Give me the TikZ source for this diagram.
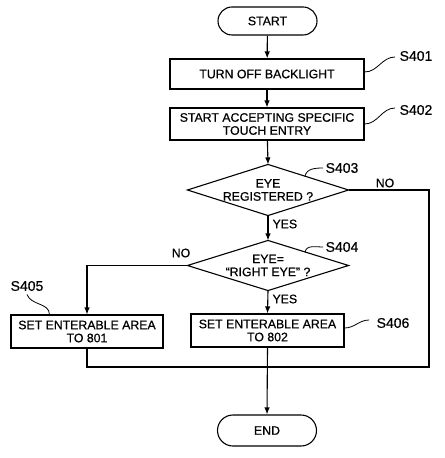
\documentclass[tikz,border=0pt]{standalone}
\usepackage{fontspec}
\setmainfont{Liberation Sans}[FakeBold=0.6]
\usetikzlibrary{arrows.meta,calc}
\begin{document}
\begin{tikzpicture}[x=1bp,y=-1bp,
  line width=1.1bp,
  every node/.style={font=\fontsize{12.3bp}{13bp}\selectfont},
  proc/.style={draw, rectangle, inner sep=0pt, align=center},
  term/.style={draw, rectangle, inner sep=0pt, minimum width=99bp},
  dec/.style={rectangle, inner sep=0pt, minimum width=160bp, minimum height=50bp, align=center},
  steplbl/.style={font=\fontsize{14bp}{14bp}\selectfont, inner sep=0pt},
  yn/.style={inner sep=0pt},
  arr/.style={-{Latex[length=7bp,width=5.5bp]}},
  squig/.style={line width=0.8bp},
]
\useasboundingbox (0,0) rectangle (445,458);

% terminals
\node[term, rounded corners=14bp, minimum height=28bp] (start) at (267.5,21) {START};
\node[term, rounded corners=15.5bp, minimum height=31bp] (end) at (267,430.5) {END};

% process boxes
\node[proc, minimum width=194bp, minimum height=30bp] (b401) at (267,74) {TURN OFF BACKLIGHT};
\node[proc, minimum width=194bp, minimum height=32bp] (b402) at (267,124) {START ACCEPTING SPECIFIC\\TOUCH ENTRY};
\node[proc, minimum width=152bp, minimum height=33bp] (b405) at (87,331.5) {SET ENTERABLE AREA\\TO 801};
\node[proc, minimum width=153bp, minimum height=33bp] (b406) at (267.5,330.5) {SET ENTERABLE AREA\\TO 802};

% decisions
\node[dec] (d403) at (268,190) {EYE\\REGISTERED ?};
\node[dec, minimum height=49bp] (d404) at (268,265.5) {EYE=\\``RIGHT EYE'' ?};
\draw (d403.north) -- (d403.east) -- (d403.south) -- (d403.west) -- cycle;
\draw (d404.north) -- (d404.east) -- (d404.south) -- (d404.west) -- cycle;

% step labels
\node[steplbl] (s401) at (416,56) {S401};
\node[steplbl] (s402) at (416,110) {S402};
\node[steplbl] (s403) at (342,168) {S403};
\node[steplbl] (s404) at (342,247) {S404};
\node[steplbl] (s405) at (27,286) {S405};
\node[steplbl] (s406) at (393,323) {S406};

% yes / no labels
\node[yn, anchor=west] (y403) at (272,224) {YES};
\node[yn, anchor=west] (y404) at (272,299) {YES};
\node[yn] (n403) at (385,183) {NO};
\node[yn] (n404) at (181,253) {NO};

% squiggles
\draw[squig] (b401.east |- 0,72) to[out=0,in=180] ($(s401.west)+(-4,1)$);
\draw[squig] (b402.east) to[out=0,in=180] ($(s402.west)+(-4,-2)$);
\draw[squig] ($(d403.north)!0.46!(d403.east)$) to[out=80,in=180] ($(s403.west)+(-2,0)$);
\draw[squig] ($(d404.north)!0.46!(d404.east)$) to[out=80,in=180] ($(s404.west)+(-2,0)$);
\draw[squig] ($(s405.south)+(0,3)$) to[out=-70,in=90] ($(b405.north west)+(39,0)$);
\draw[squig] (b406.east |- 0,328) to[out=0,in=180] ($(s406.west)+(-7,-3)$);

% connectors
\draw[arr] (start) -- (b401);
\draw[arr] (b401) -- (b402);
\draw[arr] (b402) -- (d403.north);
\draw[arr] (d403.south) -- (d404.north);
\draw[arr] (d404.south) -- (b406.north);
\draw[arr] (d404.west) -| (b405.north);
\coordinate (rc) at (429,367);
\coordinate (m) at (267.5,367);
\draw (d403.east) -| (rc) -- (m);
\draw (b405.south) |- (m);
\draw[arr] (b406.south) -- (end.north);
\end{tikzpicture}
\end{document}
